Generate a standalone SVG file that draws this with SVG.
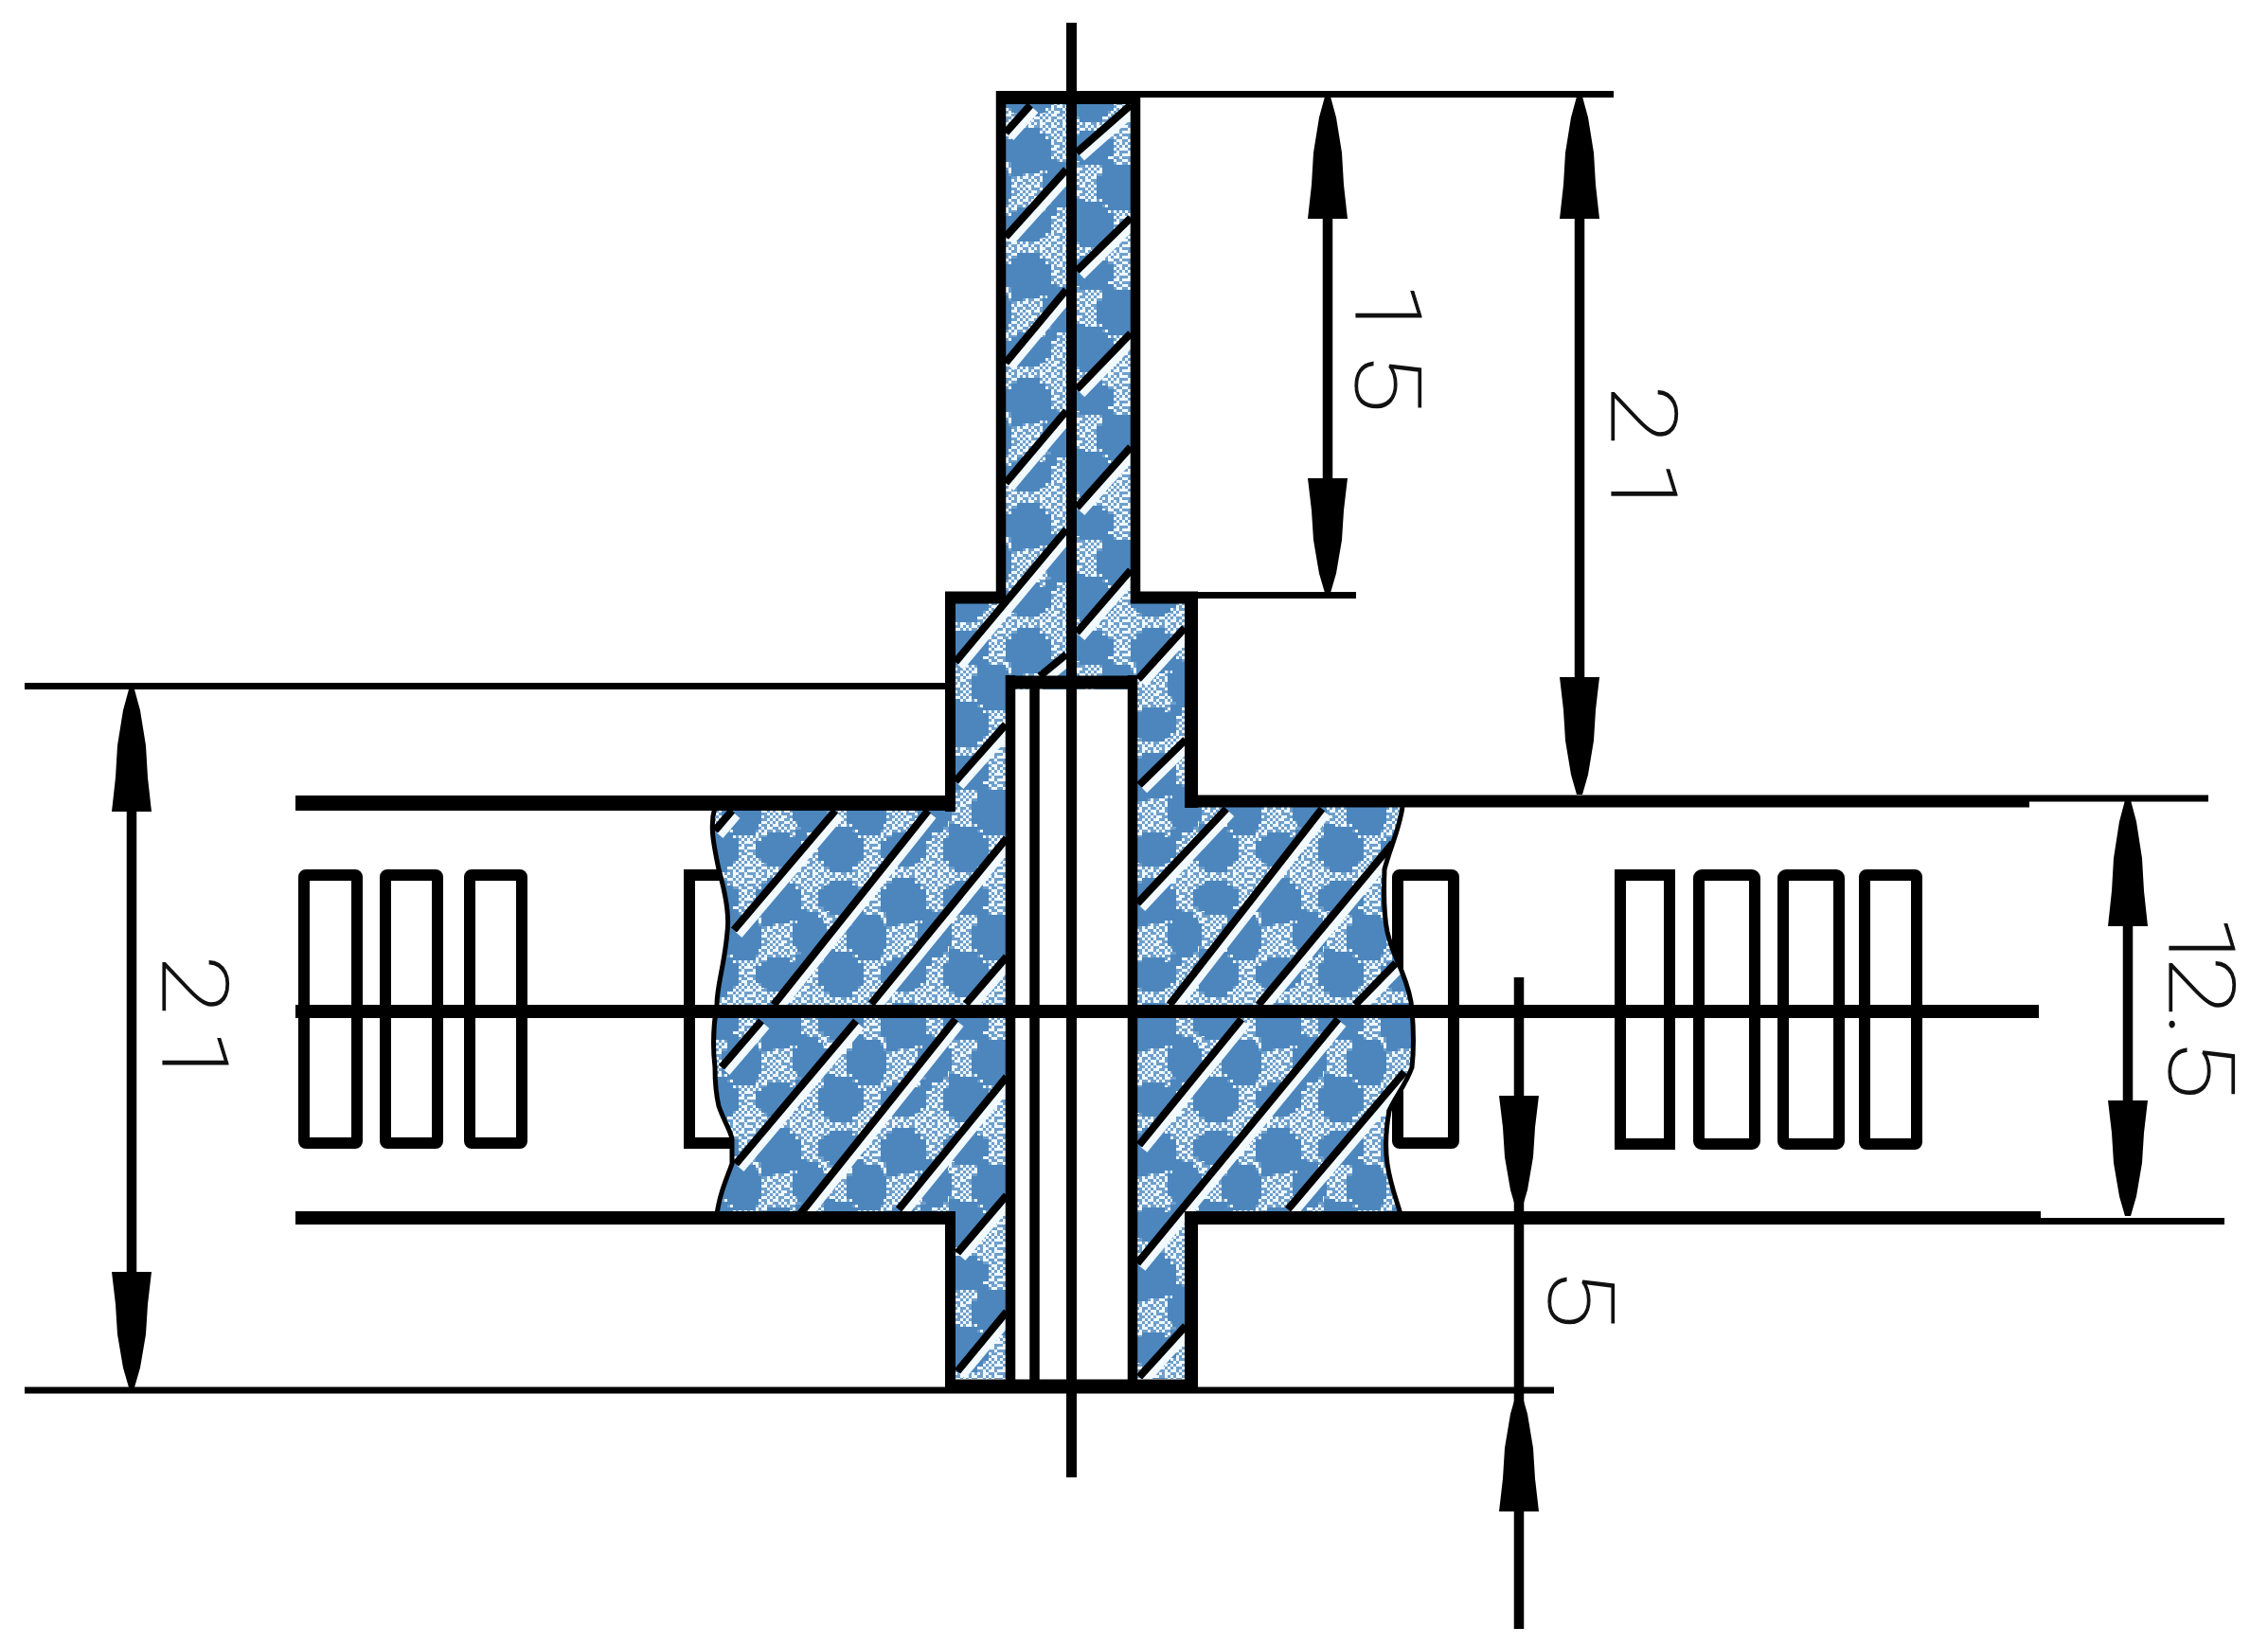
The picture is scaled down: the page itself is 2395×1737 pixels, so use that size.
<svg xmlns="http://www.w3.org/2000/svg" width="2395" height="1737" viewBox="0 0 2395 1737">
<style>
.k{stroke:#000;fill:none;stroke-linecap:butt}
.s7{stroke-width:7}.s10{stroke-width:10.5}.s11{stroke-width:11}.s13{stroke-width:13}.s14{stroke-width:14}.s16{stroke-width:16}
.coil{fill:none;stroke:#000;stroke-width:12}
.edge{fill:none;stroke:#000;stroke-width:5}
.dim{font-family:Roboto,"Liberation Sans",sans-serif;font-weight:100;font-size:96px;fill:#111;stroke:#111;stroke-width:1.2}
</style>
<defs>
<pattern id="dither" width="24" height="24" patternUnits="userSpaceOnUse">
<rect width="24" height="24" fill="#6f9fcb"/>
<path fill="#eef8ff" shape-rendering="crispEdges" d="M0 0h3v3h-3zM6 0h6v3h-6zM18 0h3v3h-3zM3 3h3v3h-3zM12 3h6v3h-6zM21 3h3v3h-3zM0 6h6v3h-6zM9 6h3v3h-3zM18 6h3v3h-3zM6 9h3v3h-3zM12 9h3v3h-3zM18 9h6v3h-6zM0 12h3v3h-3zM9 12h3v3h-3zM15 12h3v3h-3zM3 15h6v3h-6zM12 15h6v3h-6zM21 15h3v3h-3zM0 18h3v3h-3zM6 18h3v3h-3zM18 18h3v3h-3zM3 21h3v3h-3zM9 21h6v3h-6zM21 21h3v3h-3z"/>
</pattern>
<path id="blob" d="M-12-24H12V-18H18V-12H24V12H18V18H12V24H-12V18H-18V12H-24V-12H-18V-18H-12Z"/>
<pattern id="mat" width="132" height="132" patternUnits="userSpaceOnUse">
<rect width="132" height="132" fill="url(#dither)"/>
<g fill="#4c86bd" shape-rendering="crispEdges">
<use href="#blob" transform="translate(30,27)"/>
<use href="#blob" transform="translate(96,24) scale(1,.75)"/>
<use href="#blob" transform="translate(63,63) scale(.75,1)"/>
<use href="#blob" transform="translate(126,66)"/>
<use href="#blob" transform="translate(0,66) scale(.5,1)"/>
<use href="#blob" transform="translate(30,105) scale(1,.75)"/>
<use href="#blob" transform="translate(96,105)"/>
<path d="M42 36H60V48H42ZM78 78H90V90H78ZM12 42H24V54H12ZM108 36H120V48H108ZM48 84H60V96H48Z"/>
</g>
</pattern>
<path id="matshape" d="M1062 110H1194V637H1251V1456H1009V637H1062ZM1062 852V1282H757C760 1262 765 1250 773 1229L773 1203C772 1195 765 1185 759 1168C756 1155 755 1145 755 1127C753 1110 752 1090 757 1061C757 1040 765 1020 768 984C770 970 768 950 759 918C752 885 750 870 755 852ZM1201 852H1481C1478 875 1468 895 1462 918C1461 945 1461 965 1465 984C1470 1005 1476 1015 1480 1025C1486 1040 1490 1052 1491 1066C1493 1090 1493 1110 1491 1127C1485 1145 1472 1160 1467 1173C1463 1195 1463 1215 1465 1229C1468 1250 1474 1265 1479 1282H1201Z"/>
<clipPath id="matclip"><use href="#matshape"/></clipPath>
<polygon id="ah" points="-3,0 3,0 9,17 15,46 17,72 21,100 -21,100 -17,72 -15,46 -9,17" fill="#000"/>
<g id="hatches">
<path d="M1088 111L1062 140M1126 179L1062 250M1126 306L1062 383M1126 434L1062 510M1126 559L1009 699M1126 691L1098 714M1194 111L1137 161M1194 230L1137 286M1194 352L1137 411M1194 472L1137 536M1194 602L1137 668M1251 663L1202 717M1062 765L1009 825"/>
<path d="M773 856L755 877M882 856L775 982M980 856L817 1061M804 1078L762 1127M1063 885L920 1060M904 1078L777 1229M1063 1010L1020 1060M1009 1076L844 1283M1063 1137L949 1277M1063 1262L1011 1323M1063 1385L1011 1448"/>
<path d="M1252 781L1203 829M1295 854L1201 954M1396 854L1235 1061M1311 1076L1203 1209M1471 890L1329 1061M1413 1076L1201 1334M1474 1017L1431 1061M1483 1132L1360 1277M1252 1400L1203 1454"/>
</g>
</defs>
<rect width="2395" height="1737" fill="#fff"/>

<g id="coils">
<rect class="coil" x="321" y="924" width="56" height="283" rx="2"/>
<rect class="coil" x="407" y="924" width="55" height="283" rx="2"/>
<rect class="coil" x="496" y="924" width="55" height="283" rx="2"/>
<rect class="coil" x="728" y="924" width="60" height="283"/>
<rect class="coil" x="1476" y="924" width="59" height="283" rx="2"/>
<rect class="coil" x="1711" y="924" width="52" height="284"/>
<rect class="coil" x="1794" y="924" width="59" height="284" rx="3"/>
<rect class="coil" x="1883" y="924" width="59" height="284" rx="3"/>
<rect class="coil" x="1969" y="924" width="55" height="284" rx="2"/>
</g>

<g id="material">
<use href="#matshape" fill="url(#mat)"/>
<g clip-path="url(#matclip)">
<use href="#hatches" transform="translate(5,5)" fill="none" stroke="#f2faff" stroke-width="9"/>
<use href="#hatches" fill="none" stroke="#000" stroke-width="8"/>
</g>
<path class="edge" d="M755 852C750 870 752 885 759 918C768 950 770 970 768 984C765 1020 757 1040 757 1061C752 1090 753 1110 755 1127C755 1145 756 1155 759 1168C765 1185 772 1195 773 1203L773 1229C765 1250 760 1262 757 1282"/>
<path class="edge" d="M1481 852C1478 875 1468 895 1462 918C1461 945 1461 965 1465 984C1470 1005 1476 1015 1480 1025C1486 1040 1490 1052 1491 1066C1493 1090 1493 1110 1491 1127C1485 1145 1472 1160 1467 1173C1463 1195 1463 1215 1465 1229C1468 1250 1474 1265 1479 1282"/>
</g>

<g id="bore">
<rect x="1072" y="728" width="119" height="728" fill="#fff"/>
<path class="k s10" d="M1067 713V1460M1196 713V1460M1092.500 720V1460"/>
<path class="k s14" d="M1062 720.500H1201"/>
</g>

<g id="outline">
<path class="k s10" d="M1057 96V637M1199 96V637"/>
<path class="k s14" d="M1052 103H1204"/>
<path class="k s13" d="M998 631H1062M1194 631H1265"/>
<path class="k s11" d="M1003.500 625V857M1003.500 1279V1471"/>
<path class="k s14" d="M1258 625V853M1258 1279V1471"/>
<path class="k s14" d="M998 1463.500H1265"/>
<path class="k s16" d="M312 848H1009"/>
<path class="k s13" d="M1251 846H2143"/>
<path class="k s14" d="M312 1286H1009M1251 1286H2155"/>
<path class="k s14" d="M312 1068H2153"/>
<path class="k s11" d="M1131.500 24V1560"/>
</g>

<g id="connectors">
<path class="k s7" d="M1204 99.500H1704M1204 628.500H1432M26 724.500H1009M26 1468H1641M2143 843H2332M2155 1289.500H2349"/>
<path class="k s10" d="M1402 150V580M1668 150V800M139 780V1420M2247 900V1240"/>
<path class="k s10" d="M1604 1032V1720"/>
<use href="#ah" transform="translate(1402,102) scale(1,1.290)"/>
<use href="#ah" transform="translate(1402,626) scale(1,-1.210)"/>
<use href="#ah" transform="translate(1668,102) scale(1,1.290)"/>
<use href="#ah" transform="translate(1668,839) scale(1,-1.240)"/>
<use href="#ah" transform="translate(139,728) scale(1,1.290)"/>
<use href="#ah" transform="translate(139,1465) scale(1,-1.220)"/>
<use href="#ah" transform="translate(2247,845) scale(1,1.330)"/>
<use href="#ah" transform="translate(2247,1284) scale(1,-1.220)"/>
<use href="#ah" transform="translate(1604,1277) scale(1,-1.200)"/>
<use href="#ah" transform="translate(1604,1472) scale(1,1.240)"/>
</g>

<g id="labels">
<text class="dim" transform="translate(1432,297) rotate(90) scale(1.220,1)" x="0 61.500">15</text>
<text class="dim" transform="translate(1702,406) rotate(90) scale(1.220,1)" x="0 65">21</text>
<text class="dim" transform="translate(172,1008) rotate(90) scale(1.220,1)" x="0 64">21</text>
<text class="dim" transform="translate(2291,965) rotate(90) scale(1.220,1)" x="0 36 86 108">12.5</text>
<text class="dim" transform="translate(1636,1339) rotate(90) scale(1.220,1)">5</text>
</g>
</svg>
